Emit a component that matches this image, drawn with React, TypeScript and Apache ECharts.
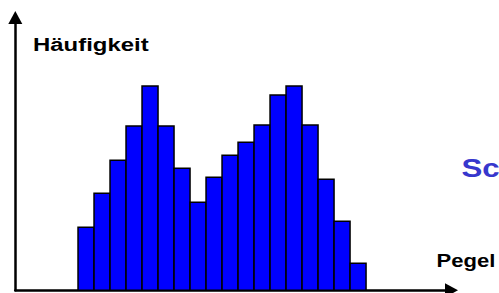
import React, { useEffect, useRef } from "react";
import * as echarts from "echarts";

// Histogram counts per level bin (arbitrary units)
const counts: number[] = [63, 97, 130, 164, 204, 164, 122, 88, 113, 135, 148, 165, 195, 204, 165, 111, 69, 27];
const yLabel = "Häufigkeit";
const xLabel = "Pegel";
const sideLabel = "Sc";

export default function App() {
  const ref = useRef<HTMLDivElement>(null);
  useEffect(() => {
    if (!ref.current) return;
    const chart = echarts.init(ref.current, null, { renderer: "svg" });
    const data = counts.map((c, i) => [i, i + 1, c]);
    chart.setOption({
      animation: false,
      backgroundColor: "#ffffff",
      grid: { left: 15.3, right: 47.5, top: 17.5, bottom: 2.7 },
      xAxis: {
        type: "value",
        min: -3.92,
        max: 23.34,
        axisLine: {
          show: true,
          onZero: false,
          symbol: ["none", "triangle"],
          symbolSize: [14, 13],
          lineStyle: { color: "#000", width: 2.5 },
        },
        axisTick: { show: false },
        axisLabel: { show: false },
        splitLine: { show: false },
      },
      yAxis: {
        type: "value",
        min: 0,
        max: 272.5,
        axisLine: {
          show: true,
          onZero: false,
          symbol: ["none", "triangle"],
          symbolSize: [14, 13],
          lineStyle: { color: "#000", width: 2.5 },
        },
        axisTick: { show: false },
        axisLabel: { show: false },
        splitLine: { show: false },
      },
      series: [
        {
          type: "custom",
          data,
          encode: { x: [0, 1], y: 2 },
          renderItem: (params: any, api: any) => {
            const p0 = api.coord([api.value(0), api.value(2)]);
            const p1 = api.coord([api.value(1), 0]);
            return {
              type: "rect",
              shape: { x: p0[0], y: p0[1], width: p1[0] - p0[0], height: p1[1] - p0[1] },
              style: { fill: "#0000ff", stroke: "#000000", lineWidth: 1.5 },
            };
          },
        },
      ],
      graphic: [
        {
          type: "text",
          x: 33,
          y: 44,
          scaleX: 1.26,
          style: {
            text: yLabel,
            font: "bold 19px 'Liberation Sans', Arial, sans-serif",
            fill: "#000",
            align: "left",
            verticalAlign: "middle",
          },
        },
        {
          type: "text",
          x: 436.5,
          y: 260,
          scaleX: 1.16,
          style: {
            text: xLabel,
            font: "bold 19px 'Liberation Sans', Arial, sans-serif",
            fill: "#000",
            align: "left",
            verticalAlign: "middle",
          },
        },
        {
          type: "text",
          x: 461.5,
          y: 168,
          scaleX: 1.2,
          style: {
            text: sideLabel,
            font: "bold 26px 'Liberation Sans', Arial, sans-serif",
            fill: "#3737cd",
            align: "left",
            verticalAlign: "middle",
          },
        },
      ],
    });
    return () => chart.dispose();
  }, []);
  return (
    <div
      ref={ref}
      style={{ position: "fixed", left: 0, top: 0, width: 499, height: 293 }}
    />
  );
}
